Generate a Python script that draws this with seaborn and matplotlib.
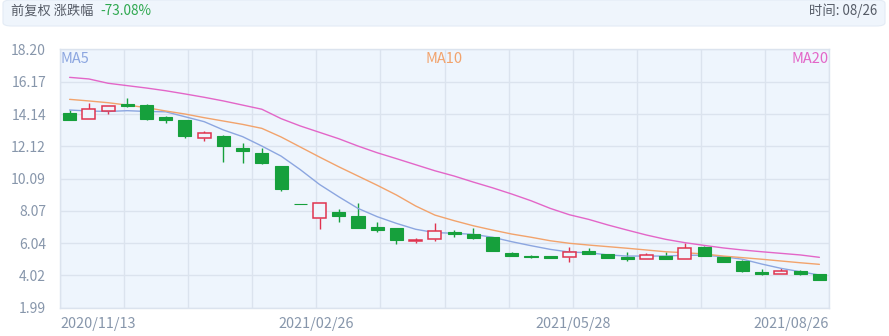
import numpy as np
import pandas as pd
import matplotlib
matplotlib.use("Agg")
import matplotlib.pyplot as plt
from matplotlib.patches import FancyBboxPatch
import seaborn as sns

# ---------------- data ----------------
opens = [14.18, 13.83, 14.35, 14.77, 14.70, 13.97, 13.76, 12.65, 12.76, 12.03,
         11.67, 10.88, 8.50, 7.64, 8.01, 7.76, 7.07, 6.97, 6.16, 6.28,
         6.76, 6.61, 6.41, 5.40, 5.23, 5.23, 5.15, 5.55, 5.36, 5.19,
         5.05, 5.23, 5.05, 5.82, 5.19, 4.94, 4.23, 4.10, 4.31, 4.09]
closes = [13.76, 14.45, 14.64, 14.64, 13.81, 13.76, 12.78, 12.97, 12.15, 11.82,
          11.05, 9.42, 8.47, 8.54, 7.76, 6.97, 6.86, 6.24, 6.24, 6.80,
          6.61, 6.34, 5.55, 5.25, 5.17, 5.09, 5.50, 5.38, 5.13, 5.03,
          5.30, 5.05, 5.72, 5.23, 4.88, 4.31, 4.09, 4.31, 4.10, 3.73]
highs = [14.39, 14.85, 14.66, 15.13, 14.75, 14.00, 13.78, 13.09, 12.82, 12.30,
         12.03, 10.90, 8.50, 8.56, 8.16, 8.54, 7.38, 6.99, 6.34, 7.28,
         6.86, 6.97, 6.44, 5.50, 5.28, 5.25, 5.82, 5.72, 5.38, 5.50,
         5.44, 5.46, 6.07, 5.84, 5.21, 4.96, 4.44, 4.50, 4.33, 4.11]
lows = [13.74, 13.80, 14.14, 14.60, 13.78, 13.59, 12.65, 12.45, 11.15, 11.05,
        11.00, 9.31, 8.47, 6.91, 7.38, 6.97, 6.76, 5.97, 6.03, 6.19,
        6.41, 6.32, 5.53, 5.24, 5.12, 5.08, 4.88, 5.36, 5.11, 4.94,
        5.03, 5.03, 5.03, 5.21, 4.86, 4.21, 4.07, 4.08, 4.04, 3.71]
ma5 = [14.39, 14.33, 14.30, 14.35, 14.30, 14.28, 13.97, 13.66, 13.14, 12.72,
       12.13, 11.50, 10.65, 9.72, 8.95, 8.22, 7.70, 7.28, 6.91, 6.70,
       6.66, 6.59, 6.41, 6.13, 5.88, 5.65, 5.48, 5.44, 5.30, 5.23,
       5.23, 5.23, 5.28, 5.28, 5.19, 5.03, 4.73, 4.46, 4.25, 4.04]
ma10 = [15.06, 14.96, 14.85, 14.70, 14.54, 14.33, 14.14, 13.91, 13.70, 13.49,
        13.24, 12.70, 12.07, 11.44, 10.83, 10.25, 9.67, 9.06, 8.37, 7.80,
        7.45, 7.13, 6.86, 6.61, 6.41, 6.19, 6.03, 5.92, 5.82, 5.72,
        5.61, 5.50, 5.44, 5.36, 5.23, 5.13, 5.03, 4.92, 4.81, 4.71]
ma20 = [16.44, 16.34, 16.07, 15.92, 15.77, 15.60, 15.40, 15.19, 14.96, 14.70,
        14.44, 13.85, 13.39, 12.99, 12.59, 12.13, 11.71, 11.34, 10.96, 10.58,
        10.25, 9.87, 9.51, 9.12, 8.70, 8.22, 7.82, 7.53, 7.18, 6.86,
        6.55, 6.28, 6.07, 5.90, 5.74, 5.61, 5.50, 5.40, 5.30, 5.15]
y_tick_labels = ["1.99", "4.02", "6.04", "8.07", "10.09", "12.12", "14.14", "16.17", "18.20"]
x_tick_labels = ["2020/11/13", "2021/02/26", "2021/05/28", "2021/08/26"]
header_left = "前复权 涨跌幅"
header_change = "-73.08%"
header_right = "时间: 08/26"

# ---------------- style ----------------
sns.set_theme(style="white")
plt.rcParams["font.family"] = ["Noto Sans CJK SC", "DejaVu Sans"]

W, H = 889, 336
fig = plt.figure(figsize=(W / 100, H / 100), dpi=100)
fig.patch.set_facecolor("white")

left, right, top, bottom = 60, 829, 49.3, 307.7
ax = fig.add_axes([left / W, 1 - bottom / H, (right - left) / W, (bottom - top) / H])
ax.set_facecolor("#eef5fd")

n = len(opens)
xs = np.arange(n)
df = pd.DataFrame({"x": xs, "MA5": ma5, "MA10": ma10, "MA20": ma20})

ymin, ymax = float(y_tick_labels[0]), float(y_tick_labels[-1])
ax.set_xlim(-0.5, n - 0.5)
ax.set_ylim(ymin, ymax)

# grid
yt = [float(v) for v in y_tick_labels]
for v in yt:
    ax.axhline(v, color="#dbe3ee", lw=1, zorder=0)
grid_x = np.linspace(-0.5, n - 0.5, 13)
for v in grid_x:
    ax.axvline(v, color="#dbe3ee", lw=1, zorder=0)

# MA lines via seaborn
ma_colors = {"MA5": "#8ca6e0", "MA10": "#f2a36c", "MA20": "#e366c8"}
for name, col in ma_colors.items():
    sns.lineplot(data=df, x="x", y=name, ax=ax, color=col, lw=1.0, zorder=3, legend=False)

# candles
green = "#16a03c"
red = "#e0334f"
bw = 0.68
for i in range(n):
    o, c, h, l = opens[i], closes[i], highs[i], lows[i]
    up = c > o
    col = red if up else green
    lo_b, hi_b = min(o, c), max(o, c)
    ax.vlines(i, l, lo_b, color=col, lw=1, zorder=2)
    ax.vlines(i, hi_b, h, color=col, lw=1, zorder=2)
    hgt = max(hi_b - lo_b, 0.03)
    if up:
        ax.bar(i, hgt, bottom=lo_b, width=bw, facecolor="#eef5fd", edgecolor=col, lw=1.1, zorder=4)
    else:
        ax.bar(i, hgt, bottom=lo_b, width=bw, facecolor=col, edgecolor=col, lw=0.8, zorder=4)

ax.set_xlabel("")
ax.set_ylabel("")
ax.set_yticks(yt)
ax.set_yticklabels(y_tick_labels)
ax.tick_params(axis="y", length=0, pad=10, labelsize=10, labelcolor="#8796ab")
ax.set_xticks([])
for s in ax.spines.values():
    s.set_color("#dbe3ee")
    s.set_linewidth(1)

# x labels
lab_pos = [grid_x[0], grid_x[4], grid_x[8], grid_x[12]]
aligns = ["left", "center", "center", "right"]
for p, t, a in zip(lab_pos, x_tick_labels, aligns):
    ax.text(p, -0.064, t, transform=ax.get_xaxis_transform(), ha=a, va="center",
            fontsize=10.4, color="#8796ab")

# MA labels
ax.text(0.0, 0.9625, "MA5", transform=ax.transAxes, ha="left", va="center", fontsize=10.5, color="#8ca6e0")
ax.text(0.5, 0.9625, "MA10", transform=ax.transAxes, ha="center", va="center", fontsize=10.5, color="#f2a36c")
ax.text(1.0, 0.9625, "MA20", transform=ax.transAxes, ha="right", va="center", fontsize=10.5, color="#e366c8")

# header bar
hb = FancyBboxPatch((3 / W, 1 - 26 / H), (882) / W, 26 / H,
                    boxstyle="round,pad=0,rounding_size=0.01",
                    transform=fig.transFigure, facecolor="#eff5fc", edgecolor="#e3ebf5", lw=0.8)
fig.patches.append(hb)
fig.text(11 / W, 1 - 11 / H, header_left, ha="left", va="center", fontsize=9.5, color="#555b66")
fig.text(100 / W, 1 - 11 / H, header_change, ha="left", va="center", fontsize=9.8, color="#2ea84f")
fig.text(877 / W, 1 - 11 / H, header_right, ha="right", va="center", fontsize=9.6, color="#555b66")

fig.savefig("out.png", dpi=100)
